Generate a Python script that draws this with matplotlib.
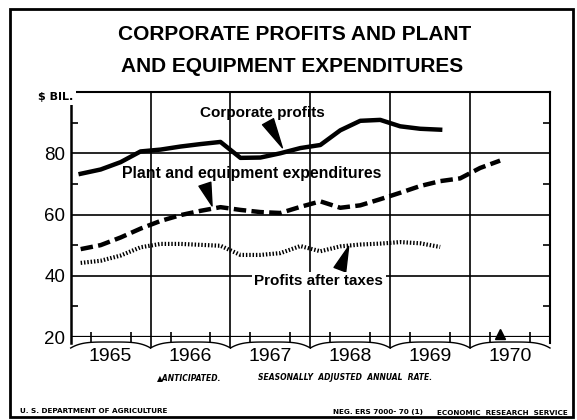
import numpy as np
import matplotlib
matplotlib.use("Agg")
import matplotlib.pyplot as plt
import matplotlib.transforms as mtransforms
from matplotlib.patches import Rectangle

# Quarterly values, seasonally adjusted annual rate, $ billion (1965 Q1 onward)
years = [1965, 1966, 1967, 1968, 1969, 1970]
corp_profits = [73.3, 74.7, 77.1, 80.6, 81.2, 82.2, 83.0, 83.7,
                78.5, 78.6, 80.0, 81.7, 82.7, 87.5, 90.6, 90.9,
                88.8, 88.0, 87.7]
plant_equip = [48.7, 50.0, 52.5, 55.4, 57.9, 59.8, 61.2, 62.4,
               61.5, 60.8, 60.5, 62.5, 64.3, 62.2, 63.0, 65.0,
               67.1, 69.3, 70.9, 71.8, 75.2, 77.6]
after_tax = [44.2, 44.9, 46.6, 49.3, 50.4, 50.4, 50.1, 49.8,
             46.8, 46.8, 47.4, 49.7, 48.0, 49.6, 50.2, 50.5,
             51.0, 50.6, 49.4]
anticipated = 1970.375  # 1970 Q2 marked as anticipated


def quarter_pos(vals):
    # mid-quarter positions on a year axis
    return [years[0] + 0.125 + 0.25 * i for i in range(len(vals))]


fig = plt.figure(figsize=(5.77, 4.2), dpi=100)
ax = fig.add_axes([0.1225, 0.1976, 0.8307, 0.5833])
ax.set_xlim(1965, 1971)
ax.set_ylim(20, 100)

for s in ax.spines.values():
    s.set_visible(False)
ax.spines['top'].set_visible(True)
ax.spines['top'].set_linewidth(1.5)

# grid
for v in (40, 60, 80):
    ax.axhline(v, color='k', lw=1.2, zorder=1)
ax.axhline(20, color='k', lw=1.6, zorder=1)
for yr in years[1:]:
    ax.axvline(yr, ymin=-0.042, ymax=1, color='k', lw=1.2, clip_on=False, zorder=1)
ax.axvline(1965, ymin=-0.025, ymax=1, color='k', lw=1.8, clip_on=False, zorder=1)
ax.axvline(1971, ymin=-0.025, ymax=1, color='k', lw=1.5, clip_on=False, zorder=1)

# broken-axis wave under the 20 line
trans = mtransforms.blended_transform_factory(ax.transData, ax.transAxes)
f = np.linspace(0, 1, 40)
for yr in years:
    depth = (5 + 6 * np.abs(2 * f - 1) ** 4) / 245.0
    ax.plot(yr + f, -depth, color='k', lw=1.0, transform=trans, clip_on=False)

# ticks
ax.set_yticks([20, 40, 60, 80])
ax.set_yticks([30, 50, 70, 90], minor=True)
ax.set_xticks([y + 0.5 for y in years])
ax.set_xticklabels([str(y) for y in years])
ax.set_xticks([y + q for y in years for q in (0.25, 0.5, 0.75)], minor=True)
ax.tick_params(axis='y', which='major', length=0, pad=4, labelsize=13.5)
ax.tick_params(axis='y', which='minor', direction='in', length=5, width=1.2,
               left=True, right=True)
ax.tick_params(axis='x', which='major', length=0, pad=8, labelsize=14)
ax.tick_params(axis='x', which='minor', direction='inout', length=7, width=1.2)
for lab in ax.get_xticklabels() + ax.get_yticklabels():
    lab.set_family('Liberation Sans')

# series
ax.plot(quarter_pos(corp_profits), corp_profits, color='k', lw=3.2,
        solid_joinstyle='round', zorder=3)
ax.plot(quarter_pos(plant_equip), plant_equip, color='k', lw=3.2,
        dashes=(2.8, 1.2), zorder=3)
ax.plot(quarter_pos(after_tax), after_tax, color='k', lw=3.0,
        dashes=(0.35, 0.45), zorder=3)
ax.plot([anticipated], [21.0], marker='^', color='k', ms=7, clip_on=False, zorder=4)

# series labels with pointers
lab_font = dict(family='Liberation Sans', weight='bold', size=11)
ax.text(1966.62, 92.0, 'Corporate profits', ha='left', va='baseline', **lab_font)
ax.text(1965.64, 71.9, 'Plant and equipment expenditures', ha='left', va='baseline',
        size=11.4, family='Liberation Sans', weight='bold')
ax.text(1967.30, 37.0, 'Profits after taxes', ha='left', va='baseline', zorder=5,
        bbox=dict(boxstyle='square,pad=0.15', fc='white', ec='none'), **lab_font)
wedge = dict(arrowstyle='wedge,tail_width=0.9', fc='k', ec='k', shrinkA=0, shrinkB=0)
ax.annotate('', xy=(1967.65, 81.8), xytext=(1967.47, 90.3), arrowprops=wedge)
ax.annotate('', xy=(1966.77, 62.8), xytext=(1966.68, 69.9), arrowprops=wedge)
ax.annotate('', xy=(1968.48, 49.6), xytext=(1968.37, 42.0), arrowprops=wedge)

ax.text(-0.069, 0.98, '$ BIL.', transform=ax.transAxes, ha='left', va='center',
        family='DejaVu Sans', weight='bold', size=8, zorder=6, clip_on=False,
        bbox=dict(boxstyle='square,pad=0.3', fc='white', ec='none'))

# title
title_font = dict(family='Liberation Sans', weight='bold', size=15)
fig.text(0.511, 0.905, 'CORPORATE PROFITS AND PLANT', ha='center', va='baseline', **title_font)
fig.text(0.506, 0.829, 'AND EQUIPMENT EXPENDITURES', ha='center', va='baseline', **title_font)

# notes and footer
note = dict(family='DejaVu Sans', weight='bold', style='italic', size=5.5)
fig.text(0.272, 0.1, '\u25b2ANTICIPATED.', ha='left', va='center', **note)
fig.text(0.447, 0.1, 'SEASONALLY  ADJUSTED  ANNUAL  RATE.', ha='left', va='center', **note)
foot = dict(family='DejaVu Sans', weight='bold', size=5.2)
fig.text(0.035, 0.022, 'U. S. DEPARTMENT OF AGRICULTURE', ha='left', va='center', **foot)
fig.text(0.733, 0.018, 'NEG. ERS 7000- 70 (1)', ha='right', va='center', **foot)
fig.text(0.984, 0.016, 'ECONOMIC  RESEARCH  SERVICE', ha='right', va='center', **foot)

# outer frame
fig.add_artist(Rectangle((0.018, 0.007), 0.975, 0.972, transform=fig.transFigure,
                         fill=False, ec='k', lw=2))

fig.savefig('out.png', dpi=100)
